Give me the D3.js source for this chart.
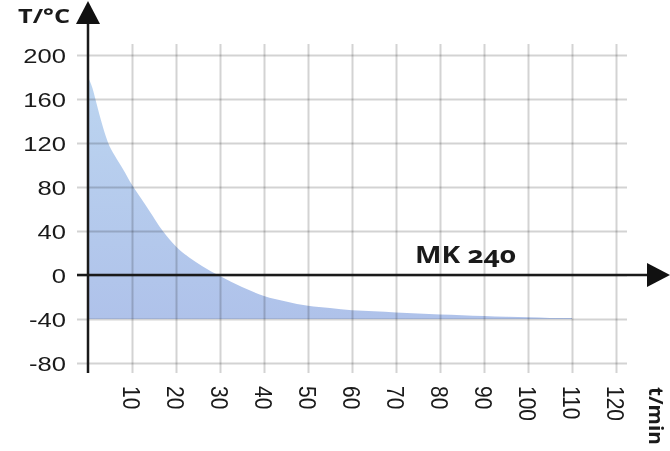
<!DOCTYPE html>
<html lang="en">

<head>
    <meta charset="UTF-8">
    <title>MK 240</title>
    <script src="https://cdn.jsdelivr.net/npm/d3@7/dist/d3.min.js"></script>
    <style>
        body {
            margin: 0;
            background: #fff;
        }

        .grid line {
            stroke: #d3d3d3;
            stroke-width: 2px;
            mix-blend-mode: multiply;
        }

        .grid path {
            display: none;
        }

        .lbl {
            font-family: "Liberation Sans", Arial, sans-serif;
            font-size: 21px;
            fill: #1a1a1a;
        }

        .title {
            font-family: "Open Sans", Lato, sans-serif;
            font-weight: 700;
            fill: #1a1a1a;
            font-variant-numeric: oldstyle-nums;
        }
    </style>
</head>

<body>
    <svg id="chart" width="670" height="451"></svg>

    <script>
        // cooling curve
        const timeMin = [0, 1, 2, 3, 4.5, 6, 8, 10, 12, 14, 17, 20, 23, 26, 30, 35, 40, 45, 50, 55, 60, 65, 70, 75, 80, 85, 90, 95, 100, 105, 110];
        const tempC = [180, 170, 155, 140, 121, 109, 96, 82, 70, 58, 40, 26, 16, 8, -1, -11, -19, -24, -28, -30, -32, -33, -34, -35, -36, -36.5, -37.3, -38, -38.5, -39, -39];
        const baseTemp = -40;
        const yTicks = [-80, -40, 0, 40, 80, 120, 160, 200];
        const xTicks = [10, 20, 30, 40, 50, 60, 70, 80, 90, 100, 110, 120];

        const svg = d3.select("#chart");

        const x = d3.scaleLinear().domain([0, 120]).range([88, 616]);
        const y = d3.scaleLinear().domain([-80, 200]).range([363, 55]);

        const defs = svg.append("defs");
        const grad = defs.append("linearGradient")
            .attr("id", "fillGrad")
            .attr("gradientUnits", "userSpaceOnUse")
            .attr("x1", 0).attr("x2", 0)
            .attr("y1", y(180)).attr("y2", y(-40));
        grad.append("stop").attr("offset", 0).attr("stop-color", "#bcd5f0");
        grad.append("stop").attr("offset", 1).attr("stop-color", "#afc2ea");

        // area
        const pts = timeMin.map((t, i) => [t, tempC[i]]);
        svg.append("path")
            .datum(pts)
            .attr("fill", "url(#fillGrad)")
            .attr("d", d3.area()
                .curve(d3.curveMonotoneX)
                .x(d => x(d[0]))
                .y0(y(baseTemp))
                .y1(d => y(d[1])));

        // grid
        svg.append("g")
            .attr("class", "grid")
            .attr("transform", "translate(77,0)")
            .call(d3.axisLeft(y).tickValues(yTicks).tickSize(-(627 - 77)).tickFormat(""));

        svg.append("g")
            .attr("class", "grid")
            .attr("transform", "translate(0,373)")
            .call(d3.axisBottom(x).tickValues(xTicks).tickSize(-(373 - 44)).tickFormat(""));

        // y labels
        svg.append("g").selectAll("text")
            .data(yTicks)
            .join("text")
            .attr("class", "lbl")
            .attr("text-anchor", "end")
            .attr("transform", d => `translate(66,${y(d)}) scale(1.22,1)`)
            .attr("dy", "0.36em")
            .text(d => d);

        // x labels (rotated)
        svg.append("g").selectAll("text")
            .data(xTicks)
            .join("text")
            .attr("class", "lbl")
            .attr("transform", d => `translate(${x(d) - 1},386) scale(1.12,1) rotate(90)`)
            .attr("dy", "0.36em")
            .text(d => d);

        // axes
        svg.append("line")
            .attr("x1", x(0)).attr("x2", x(0))
            .attr("y1", 20).attr("y2", 373)
            .attr("stroke", "#1a1a1a").attr("stroke-width", 2.5);
        svg.append("line")
            .attr("x1", 77).attr("x2", 650)
            .attr("y1", y(0)).attr("y2", y(0))
            .attr("stroke", "#1a1a1a").attr("stroke-width", 2.5);

        svg.append("path")
            .attr("d", `M${x(0)},1 L${x(0) + 12},24 L${x(0) - 12},24 Z`)
            .attr("fill", "#111");
        svg.append("path")
            .attr("d", `M670,${y(0)} L647,${y(0) - 12} L647,${y(0) + 12} Z`)
            .attr("fill", "#111");

        // titles
        svg.append("text")
            .attr("class", "title")
            .attr("x", 18).attr("y", 23)
            .attr("font-size", 20)
            .attr("textLength", 52)
            .attr("lengthAdjust", "spacingAndGlyphs")
            .text("T/°C");

        svg.append("text")
            .attr("class", "title")
            .attr("transform", "translate(649,387) rotate(90)")
            .attr("font-size", 20)
            .attr("textLength", 58)
            .attr("lengthAdjust", "spacingAndGlyphs")
            .text("t/min");

        svg.append("text")
            .attr("class", "title")
            .attr("x", 415).attr("y", 263)
            .attr("font-size", 24)
            .attr("textLength", 101)
            .attr("lengthAdjust", "spacingAndGlyphs")
            .text("MK 240");
    </script>

</body>

</html>
